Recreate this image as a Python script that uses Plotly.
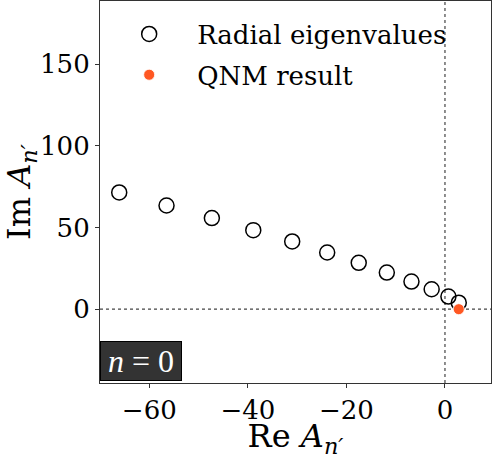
"""Radial eigenvalues vs. QNM result in the complex A plane (n = 0)."""

import plotly.graph_objects as go

# radial eigenvalues A_n'
radial_re = [-66.1, -56.5, -47.3, -38.9, -31.0, -23.9, -17.5, -11.8, -6.8, -2.7, 0.7, 2.8]
radial_im = [71.5, 63.5, 55.8, 48.4, 41.5, 34.7, 28.4, 22.4, 16.9, 12.2, 7.7, 4.0]

# QNM result
qnm_re = [2.8]
qnm_im = [0.0]

x_ticks = [-60, -40, -20, 0]
y_ticks = [0, 50, 100, 150]

SERIF = "DejaVu Serif"
MATH = "Liberation Serif"

fig = go.Figure()

fig.add_trace(
    go.Scatter(
        x=radial_re, y=radial_im,
        mode="markers",
        name="Radial eigenvalues",
        legendgroup="a",
        marker=dict(symbol="circle-open", size=15, color="black", line=dict(width=1.5, color="black")),
    )
)
fig.add_trace(
    go.Scatter(
        x=qnm_re, y=qnm_im,
        mode="markers",
        name="QNM result",
        legendgroup="b",
        marker=dict(symbol="circle", size=11, color="#FF5722", line=dict(width=0.8, color="white")),
    )
)

fig.add_hline(y=0, line=dict(color="#444444", width=1.2, dash="dot"), layer="below")
fig.add_vline(x=0, line=dict(color="#444444", width=1.2, dash="dot"), layer="below")

fig.add_annotation(
    x=0, y=0,
    xref="paper", yref="paper",
    xanchor="left", yanchor="bottom",
    text="<i>n</i> = 0",
    font=dict(family=MATH, size=32, color="white"),
    bgcolor="#333333",
    bordercolor="black", borderwidth=1,
    borderpad=1,
    width=78, height=36,
    showarrow=False,
    yshift=2,
)

axis_common = dict(
    showgrid=False, zeroline=False, automargin=False,
    showline=True, linecolor="#333333", linewidth=1.2, mirror=True,
    ticks="outside", ticklen=4, tickwidth=1.2, tickcolor="#333333",
    tickfont=dict(family=SERIF, size=26, color="black"),
)

fig.update_xaxes(
    range=[-70.0, 9.34],
    tickvals=x_ticks,
    title=dict(text="Re <i>A</i><sub><i>n′</i></sub>", font=dict(family=SERIF, size=32, color="black"), standoff=4),
    **axis_common,
)
fig.update_yaxes(
    range=[-45.2, 188.7],
    tickvals=y_ticks,
    title=dict(text="Im <i>A</i><sub><i>n′</i></sub>", font=dict(family=SERIF, size=32, color="black"), standoff=6),
    **axis_common,
)

fig.update_layout(
    width=494, height=459,
    margin=dict(l=100, r=3, t=1, b=76),
    paper_bgcolor="white",
    plot_bgcolor="white",
    showlegend=True,
    legend=dict(
        x=0.003, y=0.975,
        xanchor="left", yanchor="top",
        bgcolor="rgba(0,0,0,0)",
        font=dict(family=SERIF, size=26, color="black"),
        traceorder="grouped",
        tracegroupgap=4,
        itemwidth=86,
    ),
)

# drop the browser's default body margin so the figure sits at the page corner
fig.write_html(
    "out.html",
    config={"displayModeBar": False},
    post_script="document.body.style.margin='0';document.body.style.overflow='hidden';",
)
